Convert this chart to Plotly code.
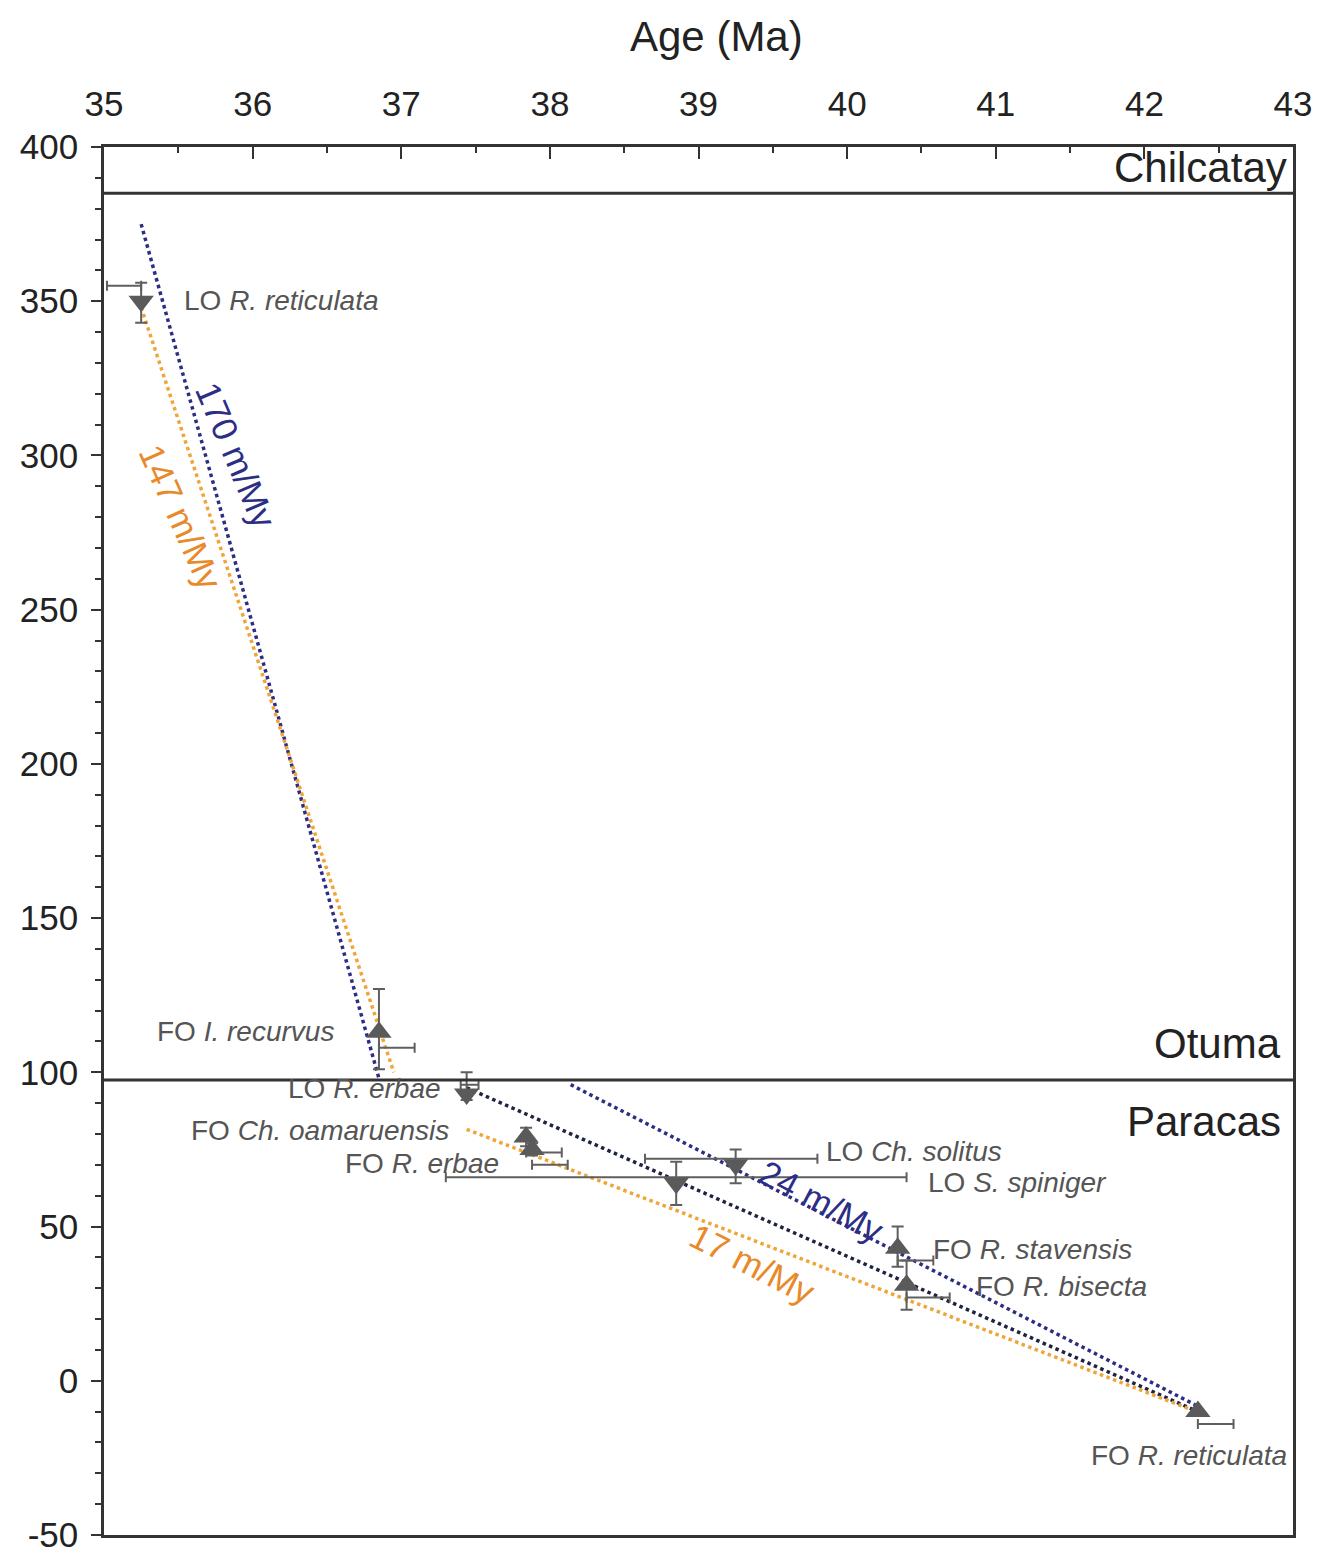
import plotly.graph_objects as go

# ---- data ----
events = ["LO <i>R. reticulata</i>", "FO <i>I. recurvus</i>", "LO <i>R. erbae</i>",
          "FO <i>Ch. oamaruensis</i>", "FO <i>R. erbae</i>", "LO <i>S. spiniger</i>",
          "LO <i>Ch. solitus</i>", "FO <i>R. stavensis</i>", "FO <i>R. bisecta</i>",
          "FO <i>R. reticulata</i>"]
event_kind = ["LO", "FO", "LO", "FO", "FO", "LO", "LO", "FO", "FO", "FO"]
age = [35.25, 36.85, 37.44, 37.84, 37.88, 38.85, 39.25, 40.34, 40.40, 42.36]
depth = [350, 113, 93, 79, 75, 64, 70, 43, 31, -10]
depth_err_plus = [6, 14, 7, 3, 2, 7, 5, 7, 8, 0]
depth_err_minus = [7, 12, 2, 3, 2, 7, 6, 6, 8, 0]
hbar_depth = [355, 108, 96, 74, 70, 66, 72, 39, 27, -14]
hbar_lo = [35.02, 36.85, 37.40, 37.84, 37.88, 37.30, 38.64, 40.34, 40.40, 42.36]
hbar_hi = [35.25, 37.09, 37.52, 38.08, 38.12, 40.40, 39.80, 40.58, 40.69, 42.60]

rate_names = ["170 m/My", "147 m/My", "24 m/My", "", "17 m/My"]
rate_ages = [[35.25, 36.85], [35.25, 36.95], [38.14, 42.35], [37.44, 42.36], [37.44, 42.35]]
rate_depths = [[375, 98], [348, 100], [96, -8], [95, -10], [81.5, -10]]

formations = ["Chilcatay", "Otuma", "Paracas"]
boundary_depths = [385, 97.5]

x_ticks = [35, 36, 37, 38, 39, 40, 41, 42, 43]
y_ticks = [-50, 0, 50, 100, 150, 200, 250, 300, 350, 400]

# ---- styles / layout helpers ----
NAVY = "#2c2d84"
DARK = "#1e2342"
ORANGE = "#f0a53a"
ORANGE_TXT = "#e8892a"
GRAY = "#5f5f5f"
TXT = "#555555"
FONT = "Liberation Sans, Arial, sans-serif"
rate_colors = [NAVY, ORANGE, NAVY, DARK, ORANGE]

# event label placement (layout, not data)
label_pos = [(35.525, 350.1, "left"), (36.561, 113.3, "right"), (37.281, 94.8, "right"),
             (37.335, 81.0, "right"), (37.672, 70.6, "right"), (40.53, 64.3, "left"),
             (39.845, 74.4, "left"), (40.565, 42.5, "left"), (40.855, 30.5, "left"),
             (42.974, -24.3, "right")]
rate_label_pos = [(35.89, 300, 67, NAVY), (35.52, 280, 66, ORANGE_TXT),
                  (39.83, 58, 28, NAVY), None, (39.36, 38, 27, ORANGE_TXT)]
formation_pos = [(42.97, 393.5), (42.93, 109.5), (42.93, 84.2)]

fig = go.Figure()

# rate lines
for n, xs, ys, c in zip(rate_names, rate_ages, rate_depths, rate_colors):
    fig.add_trace(go.Scatter(x=xs, y=ys, mode="lines", showlegend=False,
                             line=dict(color=c, width=3.5, dash="dot"), hoverinfo="skip"))

# horizontal (age) error bars, drawn at their own depth
fig.add_trace(go.Scatter(
    x=hbar_lo, y=hbar_depth, mode="markers", showlegend=False,
    marker=dict(size=1, color="rgba(0,0,0,0)"),
    error_x=dict(type="data", symmetric=False,
                 array=[h - l for h, l in zip(hbar_hi, hbar_lo)],
                 arrayminus=[0] * len(hbar_lo), color=GRAY, thickness=2, width=5)))

# markers with vertical error bars
for kind, sym in [("LO", "triangle-down"), ("FO", "triangle-up")]:
    idx = [i for i, k in enumerate(event_kind) if k == kind]
    fig.add_trace(go.Scatter(
        x=[age[i] for i in idx], y=[depth[i] for i in idx], mode="markers",
        showlegend=False,
        marker=dict(symbol=sym, size=22, color="#5a5a5a", line=dict(width=0)),
        error_y=dict(type="data", symmetric=False,
                     array=[depth_err_plus[i] for i in idx],
                     arrayminus=[depth_err_minus[i] for i in idx],
                     color=GRAY, thickness=2, width=6)))

# formation boundaries
for b in boundary_depths:
    fig.add_hline(y=b, line=dict(color="#333333", width=3))

anns = []
for txt, (lx, ly, anc) in zip(events, label_pos):
    anns.append(dict(x=lx, y=ly, text=txt, showarrow=False, xanchor=anc, yanchor="middle",
                     font=dict(family=FONT, size=28, color=TXT)))
for n, p in zip(rate_names, rate_label_pos):
    if p is None:
        continue
    anns.append(dict(x=p[0], y=p[1], text=n, showarrow=False, textangle=p[2],
                     font=dict(family=FONT, size=35, color=p[3])))
for n, (fx, fy) in zip(formations, formation_pos):
    anns.append(dict(x=fx, y=fy, text=n, showarrow=False, xanchor="right", yanchor="middle",
                     font=dict(family=FONT, size=42, color="#222222")))
anns.append(dict(x=39.12, y=1, xref="x", yref="paper", yanchor="middle", yshift=111,
                 text="Age (Ma)", showarrow=False,
                 font=dict(family=FONT, size=42, color="#222222")))

fig.update_layout(
    width=1328, height=1552,
    margin=dict(l=96, r=43, t=139, b=25),
    paper_bgcolor="white", plot_bgcolor="white",
    annotations=anns,
    font=dict(family=FONT, color="#222222"),
)
fig.update_xaxes(
    side="top", range=[35, 43], tickvals=x_ticks, ticktext=[str(v) for v in x_ticks],
    showgrid=False, zeroline=False, showline=True, linecolor="#333333", linewidth=2.5,
    mirror=True, ticks="inside", ticklen=12, tickwidth=2, tickcolor="#333333",
    minor=dict(dtick=0.5, ticks="inside", ticklen=6, tickwidth=1.5, tickcolor="#333333"),
    tickfont=dict(family=FONT, size=35, color="#222222"), ticklabelstandoff=14,
    automargin=False,
)
fig.update_yaxes(
    range=[-50, 400], tickvals=y_ticks, ticktext=[str(v) for v in y_ticks],
    showgrid=False, zeroline=False, showline=True, linecolor="#333333", linewidth=2.5,
    mirror=True, ticks="outside", ticklen=10, tickwidth=2, tickcolor="#333333",
    minor=dict(dtick=10, ticks="outside", ticklen=6, tickwidth=1.5, tickcolor="#333333"),
    tickfont=dict(family=FONT, size=35, color="#222222"), ticklabelstandoff=6,
    automargin=False,
)

fig.write_html("out.html")
